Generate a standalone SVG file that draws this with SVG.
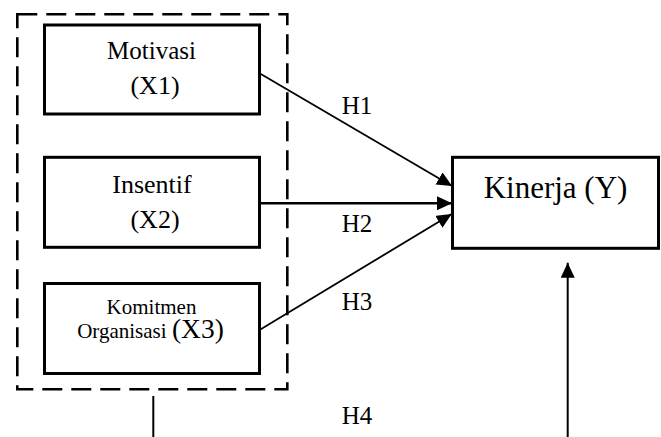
<svg xmlns="http://www.w3.org/2000/svg" width="661" height="437" viewBox="0 0 661 437">
  <style>
    .box { fill: #fff; stroke: #000; stroke-width: 3; }
    .group { fill: none; stroke: #000; stroke-width: 2.6; stroke-dasharray: 20 9; }
    .lbl { fill: #000; }
    .c { text-anchor: middle; }
    .link { stroke: #000; fill: none; }
  </style>
  <defs>
    <marker id="head" markerUnits="userSpaceOnUse" markerWidth="16" markerHeight="15" refX="15" refY="7" orient="auto">
      <path d="M0,0 L15,7 L0,14 z" fill="#000"/>
    </marker>
  </defs>

  <!-- dashed grouping of the independent variables -->
  <rect id="group-x" class="group" x="17.3" y="14.3" width="270" height="375"/>

  <g font-family="'Liberation Serif', 'DejaVu Serif', serif">
    <g id="node-x1">
      <rect class="box" x="44.5" y="25" width="215" height="89"/>
      <text class="lbl c" x="151.5" y="59" font-size="25">Motivasi</text>
      <text class="lbl c" x="155" y="94" font-size="26">(X1)</text>
    </g>

    <g id="node-x2">
      <rect class="box" x="44.5" y="157.3" width="215" height="90"/>
      <text class="lbl c" x="152" y="192.5" font-size="26">Insentif</text>
      <text class="lbl c" x="155" y="227.5" font-size="26">(X2)</text>
    </g>

    <g id="node-x3">
      <rect class="box" x="44.5" y="283.5" width="215" height="90"/>
      <text class="lbl c" x="151.5" y="314" font-size="21">Komitmen</text>
      <text class="lbl c" x="150.5" y="338" font-size="21">Organisasi <tspan font-size="27.5">(X3)</tspan></text>
    </g>

    <g id="node-y">
      <rect class="box" x="452.5" y="157.3" width="206" height="91"/>
      <text class="lbl c" x="555.5" y="198.3" font-size="31">Kinerja (Y)</text>
    </g>

    <g id="labels">
      <text class="lbl" x="341.7" y="114" font-size="25">H1</text>
      <text class="lbl" x="341.7" y="231.7" font-size="25">H2</text>
      <text class="lbl" x="341.7" y="310" font-size="25">H3</text>
      <text class="lbl" x="341.7" y="424" font-size="25">H4</text>
    </g>
  </g>

  <g id="connectors">
    <line class="link" x1="259.5" y1="73.3" x2="452" y2="186" stroke-width="1.8" marker-end="url(#head)"/>
    <line class="link" x1="259.5" y1="203.3" x2="452" y2="203.3" stroke-width="2.6" marker-end="url(#head)"/>
    <line class="link" x1="259.5" y1="330" x2="451.7" y2="214" stroke-width="1.8" marker-end="url(#head)"/>
    <line class="link" x1="567.7" y1="437" x2="567.7" y2="262.7" stroke-width="2" marker-end="url(#head)"/>
    <line class="link" x1="153.3" y1="396" x2="153.3" y2="437" stroke-width="2"/>
  </g>
</svg>
